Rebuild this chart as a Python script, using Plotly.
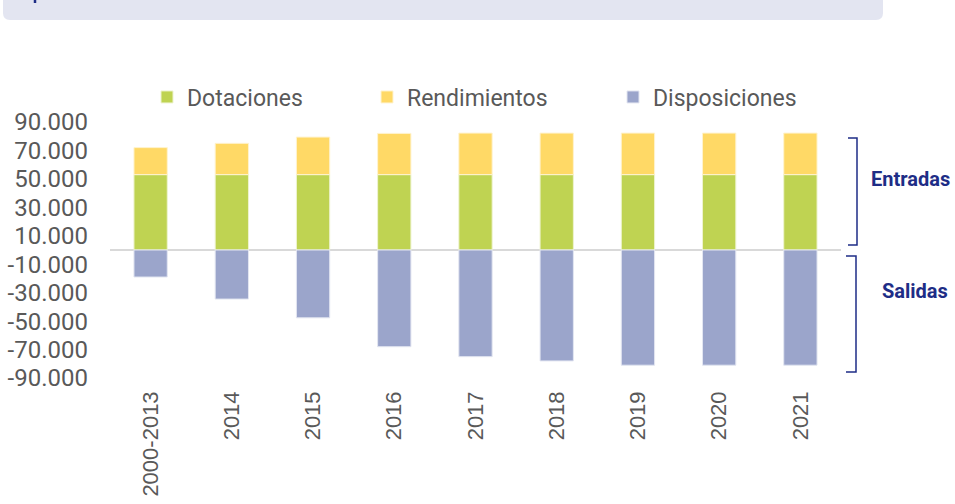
import plotly.graph_objects as go

categories = ["2000-2013", "2014", "2015", "2016", "2017", "2018", "2019", "2020", "2021"]
dotaciones = [53000, 53000, 53000, 53000, 53000, 53000, 53000, 53000, 53000]
rendimientos = [19000, 22000, 26400, 29000, 29200, 29200, 29200, 29200, 29200]
disposiciones = [-19000, -34500, -47700, -68000, -75000, -78000, -81000, -81000, -81000]
y_tick_vals = [90000, 70000, 50000, 30000, 10000, -10000, -30000, -50000, -70000, -90000]
y_tick_text = ["90.000", "70.000", "50.000", "30.000", "10.000", "-10.000", "-30.000", "-50.000", "-70.000", "-90.000"]

W, H = 955, 504
L, R, T, B = 110, 114, 122, 126
PW, PH = W - L - R, H - T - B

def px(x):
    return (x - L) / PW

def py(y):
    return (H - B - y) / PH

GREEN = "#BFD352"
YELLOW = "#FFD966"
PURPLE = "#9BA5CB"
NAVY = "#1E2D86"
GRAY = "#595959"

fig = go.Figure()
fig.add_trace(go.Bar(name="Dotaciones", x=categories, y=dotaciones, legend="legend",
                     marker=dict(color=GREEN, line=dict(color="#EEF3D0", width=1))))
fig.add_trace(go.Bar(name="Rendimientos", x=categories, y=rendimientos, legend="legend2",
                     marker=dict(color=YELLOW, line=dict(color="#FFF3CF", width=1))))
fig.add_trace(go.Bar(name="Disposiciones", x=categories, y=disposiciones, legend="legend3",
                     marker=dict(color=PURPLE, line=dict(color="#E3E6F1", width=1))))

def leg(xpix):
    return dict(orientation="h", x=px(xpix), xanchor="left", y=py(97), yanchor="middle",
                font=dict(family="Roboto", size=23, color=GRAY), bgcolor="rgba(0,0,0,0)",
                itemclick=False, itemdoubleclick=False)

fig.update_layout(
    width=W, height=H,
    margin=dict(l=L, r=R, t=T, b=B, pad=0, autoexpand=False),
    barmode="relative",
    bargap=0.59,
    plot_bgcolor="white", paper_bgcolor="white",
    showlegend=True,
    legend=leg(147), legend2=leg(367), legend3=leg(613),
    font=dict(family="Roboto", color=GRAY),
)
fig.update_yaxes(range=[-90000, 90000], tickvals=y_tick_vals, ticktext=y_tick_text,
                 showgrid=False, zeroline=True, zerolinecolor="#D9D9D9", zerolinewidth=2,
                 showline=False, ticks="", tickfont=dict(family="Roboto", size=24, color=GRAY),
                 layer="above traces", fixedrange=True, ticklabelstandoff=21, automargin=False)
fig.update_xaxes(tickangle=-90, showgrid=False, showline=False, ticks="",
                 tickfont=dict(family="Liberation Sans", size=22, color=GRAY),
                 ticklabelstandoff=8, fixedrange=True, automargin=False)

# header banner
x0, x1, y0, y1 = px(3), px(883), py(-10), py(20)
rx, ry = 7 / PW, 7 / PH
fig.add_shape(type="path", xref="paper", yref="paper",
              path=f"M {x0},{y0} L {x0},{y1 + ry} Q {x0},{y1} {x0 + rx},{y1} L {x1 - rx},{y1} Q {x1},{y1} {x1},{y1 + ry} L {x1},{y0} Z",
              fillcolor="#E3E5F1", line=dict(width=0), layer="below")
fig.add_shape(type="line", xref="paper", yref="paper", x0=px(35), x1=px(35), y0=py(-2), y1=py(3),
              line=dict(color=NAVY, width=2.5))

# brackets
def bracket(xv, ytop, ybot, xleft):
    fig.add_shape(type="path", xref="paper", yref="paper",
                  path=f"M {px(xleft)},{py(ytop)} L {px(xv)},{py(ytop)} L {px(xv)},{py(ybot)} L {px(xleft)},{py(ybot)}",
                  line=dict(color=NAVY, width=1.5))

bracket(857, 138, 245, 848)
bracket(856, 256, 372, 846)

fig.add_annotation(text="<b>Entradas</b>", xref="paper", yref="paper", x=px(869), y=py(179),
                   xanchor="left", yanchor="middle", showarrow=False,
                   font=dict(family="Roboto", size=20, color=NAVY))
fig.add_annotation(text="<b>Salidas</b>", xref="paper", yref="paper", x=px(880), y=py(291),
                   xanchor="left", yanchor="middle", showarrow=False,
                   font=dict(family="Roboto", size=20, color=NAVY))

fig.write_html("out.html", post_script="document.body.style.margin='0';",
               config={"displayModeBar": False})
